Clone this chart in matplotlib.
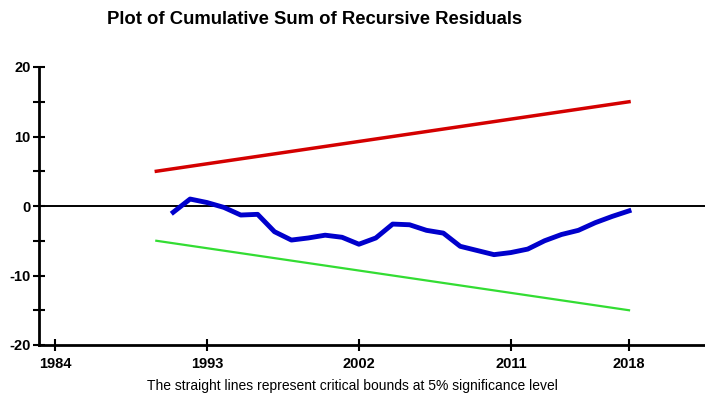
import matplotlib
matplotlib.use("Agg")
import matplotlib.pyplot as plt
from matplotlib.ticker import FixedLocator

plt.rcParams['font.family'] = ['Liberation Sans', 'DejaVu Sans']

years = [1991, 1992, 1993, 1994, 1995, 1996, 1997, 1998, 1999, 2000, 2001, 2002,
         2003, 2004, 2005, 2006, 2007, 2008, 2009, 2010, 2011, 2012, 2013, 2014,
         2015, 2016, 2017, 2018]
cusum = [-0.9, 1.0, 0.5, -0.2, -1.3, -1.2, -3.7, -4.9, -4.6, -4.2, -4.5, -5.5,
         -4.6, -2.6, -2.7, -3.5, -3.9, -5.8, -6.4, -7.0, -6.7, -6.2, -5.0, -4.1,
         -3.5, -2.4, -1.5, -0.7]
bound_years = [1990, 2018]
upper_bound = [5, 15]
lower_bound = [-5, -15]
xtick_labels = [1984, 1993, 2002, 2011, 2018]
ytick_major = [-20, -10, 0, 10, 20]
ytick_minor = [-15, -5, 5, 15]

fig = plt.figure(figsize=(7.05, 3.94), dpi=100)
ax = fig.add_axes([39/705, 49/394, 1 - 39/705, 278/394])

ax.axhline(0, color='black', lw=1.4, zorder=1)
ax.plot(bound_years, upper_bound, color='#d40000', lw=2.5, zorder=2)
ax.plot(bound_years, lower_bound, color='#33dd33', lw=1.6, zorder=2)
ax.plot(years, cusum, color='#0000cc', lw=3.5, zorder=3)

ax.set_xlim(1983.05, 2022.5)
ax.set_ylim(-20, 20)
ax.set_xticks(xtick_labels)
ax.set_xticklabels([str(v) for v in xtick_labels], fontweight='bold', fontsize=10.5)
ax.set_yticks(ytick_major)
ax.set_yticklabels([str(v) for v in ytick_major], fontweight='bold', fontsize=10.5)
ax.yaxis.set_minor_locator(FixedLocator(ytick_minor))
ax.tick_params(axis='both', which='both', direction='inout', length=8, width=1.5, colors='black')
ax.tick_params(axis='x', pad=5)
ax.tick_params(axis='y', pad=2)

for s in ['top', 'right']:
    ax.spines[s].set_visible(False)
for s in ['left', 'bottom']:
    ax.spines[s].set_linewidth(2)
    ax.spines[s].set_color('black')

fig.text(107/705, 1 - 20/394, 'Plot of Cumulative Sum of Recursive Residuals',
         fontsize=13.3, fontweight='bold', ha='left', va='center')
fig.text(352/705, 1 - 386/394, 'The straight lines represent critical bounds at 5% significance level',
         fontsize=10, ha='center', va='center')

fig.savefig('out.png', dpi=100)
